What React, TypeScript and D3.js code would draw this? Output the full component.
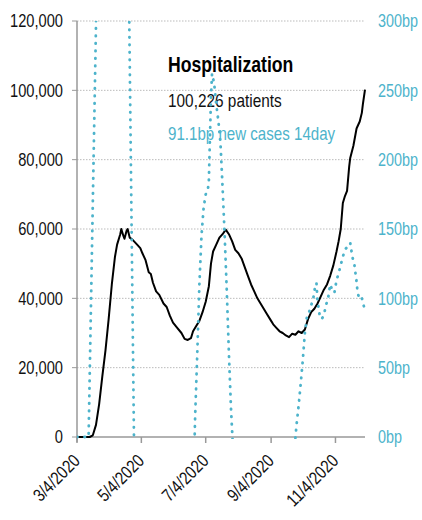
import React from "react";
import * as d3 from "d3";

const W = 422;
const H = 520;
const M = { left: 77, right: 365, top: 21, bottom: 437 };

const startDate = "2020-03-04";
const endDate = "2020-12-02";

// Hospitalization (currently hospitalized patients), date -> value
const hospDates = [
  "2020-03-04","2020-03-16","2020-03-19","2020-03-22","2020-03-25","2020-03-28","2020-03-31",
  "2020-04-03","2020-04-06","2020-04-09","2020-04-11","2020-04-14","2020-04-15","2020-04-17",
  "2020-04-18","2020-04-20","2020-04-21","2020-04-23","2020-04-26","2020-04-30","2020-05-03",
  "2020-05-05","2020-05-08","2020-05-11","2020-05-13","2020-05-15","2020-05-18","2020-05-21",
  "2020-05-25","2020-05-28","2020-05-31","2020-06-03","2020-06-07","2020-06-11","2020-06-14",
  "2020-06-17","2020-06-20","2020-06-22","2020-06-25","2020-06-28","2020-07-01","2020-07-04",
  "2020-07-07","2020-07-09","2020-07-11","2020-07-14","2020-07-17","2020-07-20","2020-07-23",
  "2020-07-26","2020-07-29","2020-08-01","2020-08-04","2020-08-07","2020-08-10","2020-08-13",
  "2020-08-16","2020-08-19","2020-08-22","2020-08-25","2020-08-28","2020-08-31","2020-09-03",
  "2020-09-06","2020-09-09","2020-09-12","2020-09-15","2020-09-18","2020-09-21","2020-09-24",
  "2020-09-27","2020-09-30","2020-10-03","2020-10-06","2020-10-09","2020-10-12","2020-10-15",
  "2020-10-18","2020-10-21","2020-10-24","2020-10-27","2020-10-30","2020-11-02","2020-11-05",
  "2020-11-07","2020-11-09","2020-11-11","2020-11-13","2020-11-15","2020-11-17","2020-11-18",
  "2020-11-21","2020-11-24","2020-11-27","2020-11-29","2020-11-30","2020-12-02"
];
const hospValues = [
  0, 0, 500, 3500, 9500, 17500, 25000,
  34000, 44000, 52000, 55500, 58500, 60000, 58000,
  57200, 59500, 60000, 57500, 56800, 55500, 54500,
  53000, 51000, 47500, 47000, 44500, 42000, 41000,
  38500, 37500, 35000, 33000, 31500, 30000, 28300,
  28000, 28500, 30500, 32000, 33500, 36000, 39000,
  43500, 50000, 53500, 55500, 57500, 58500, 59800,
  58500, 56500, 54000, 53000, 51500, 49000, 46500,
  44000, 42000, 40000, 38500, 37000, 35500, 34000,
  32500, 31500, 30500, 30000, 29300, 28800, 29800,
  29500, 30500, 30000, 31000, 34000, 36000, 37000,
  38500, 40500, 42500, 44000, 46500, 49500, 53500,
  56500, 60000, 67500, 69500, 71000, 78000, 80500,
  84000, 89000, 91000, 93500, 96000, 100226
];

// bp change in new cases (14 day), date -> value (off-scale values estimated)
const bpDates = [
  "2020-03-04","2020-03-15","2020-03-22","2020-03-23","2020-04-02","2020-04-13","2020-04-21",
  "2020-04-23","2020-04-27","2020-04-29","2020-05-28","2020-06-23","2020-06-24","2020-06-26",
  "2020-06-28","2020-06-30","2020-07-02","2020-07-04","2020-07-06","2020-07-07","2020-07-08",
  "2020-07-09","2020-07-10","2020-07-12","2020-07-14","2020-07-16","2020-07-18","2020-07-20",
  "2020-07-22","2020-07-24","2020-07-26","2020-07-28","2020-07-30","2020-08-01","2020-09-01",
  "2020-09-26","2020-09-28","2020-09-30","2020-10-02","2020-10-04","2020-10-06","2020-10-08",
  "2020-10-10","2020-10-12","2020-10-14","2020-10-16","2020-10-17","2020-10-18","2020-10-20",
  "2020-10-22","2020-10-24","2020-10-26","2020-10-28","2020-10-30","2020-11-01","2020-11-03",
  "2020-11-05","2020-11-07","2020-11-09","2020-11-11","2020-11-13","2020-11-15","2020-11-17",
  "2020-11-18","2020-11-20","2020-11-22","2020-11-24","2020-11-25","2020-11-27","2020-11-29",
  "2020-11-30","2020-12-02"
];
const bpValues = [
  0, 0, 297, 420, 1200, 900, 400,
  270, 0, -30, -60, -15, 15, 60,
  110, 145, 165, 175, 178, 185, 215,
  245, 262, 255, 240, 228, 212, 180,
  145, 105, 60, 20, -10, -30, -60,
  -10, 8, 22, 38, 55, 75, 87,
  90, 95, 100, 110, 111, 98, 88,
  85, 88, 95, 100, 110, 106, 104,
  113, 118, 124, 130, 135, 137, 139,
  140, 130, 124, 112, 104, 99, 100,
  97, 91.1
];

const leftTicks = [0, 20000, 40000, 60000, 80000, 100000, 120000];
const rightTicks = [0, 50, 100, 150, 200, 250, 300];
const xTickDates = ["2020-03-04", "2020-05-04", "2020-07-04", "2020-09-04", "2020-11-04"];
const xTickLabels = ["3/4/2020", "5/4/2020", "7/4/2020", "9/4/2020", "11/4/2020"];

const titleText = "Hospitalization";
const line1Text = "100,226 patients";
const line2Text = "91.1bp new cases 14day";

const TEAL = "#4db3cb";
const FONT = "'Liberation Sans', Arial, sans-serif";

const parse = d3.utcParse("%Y-%m-%d");

function T(props: {
  x: number; y: number; s: number; rotate?: number; anchor?: string;
  size: number; fill: string; weight?: string; dy?: string; children: React.ReactNode;
}) {
  const rot = props.rotate ? ` rotate(${props.rotate})` : "";
  return (
    <text
      transform={`translate(${props.x},${props.y})${rot} scale(${props.s},1)`}
      textAnchor={props.anchor || "start"}
      fontSize={props.size}
      fontWeight={props.weight || "normal"}
      fill={props.fill}
      dy={props.dy}
    >
      {props.children}
    </text>
  );
}

export default function App() {
  const x = d3.scaleUtc()
    .domain([parse(startDate)!, parse(endDate)!])
    .range([M.left, M.right]);
  const yL = d3.scaleLinear().domain([0, 120000]).range([M.bottom, M.top]);
  const yR = d3.scaleLinear().domain([0, 300]).range([M.bottom, M.top]);

  const hosp = hospDates.map((d, i) => ({ d: parse(d)!, v: hospValues[i] }));
  const bp = bpDates.map((d, i) => ({ d: parse(d)!, v: bpValues[i] }));

  const hospLine = d3.line<{ d: Date; v: number }>()
    .x((p) => x(p.d))
    .y((p) => yL(p.v));
  const bpLine = d3.line<{ d: Date; v: number }>()
    .x((p) => x(p.d))
    .y((p) => yR(p.v));

  return (
    <svg width={W} height={H} style={{ position: "absolute", left: 0, top: 0 }} fontFamily={FONT}>
      <defs>
        <clipPath id="plotclip">
          <rect x={M.left} y={M.top} width={M.right - M.left + 2} height={M.bottom - M.top + 2} />
        </clipPath>
      </defs>
      {/* gridlines */}
      {leftTicks.filter((t) => t > 0).map((t) => (
        <line key={t} x1={M.left} x2={M.right} y1={yL(t)} y2={yL(t)}
          stroke="#bbb" strokeWidth={1} strokeDasharray="1.5 1.5" />
      ))}
      {/* left axis */}
      <line x1={M.left} x2={M.left} y1={M.top} y2={M.bottom + 5} stroke="#999" strokeWidth={1.5} />
      {leftTicks.map((t) => (
        <g key={t}>
          <line x1={M.left - 5} x2={M.left} y1={yL(t)} y2={yL(t)} stroke="#999" strokeWidth={1} />
          <T x={63} y={yL(t)} dy="0.35em" anchor="end" size={18} s={0.815} fill="#111">
            {d3.format(",")(t)}
          </T>
        </g>
      ))}
      {/* right axis labels */}
      {rightTicks.map((t) => (
        <T key={t} x={378} y={yR(t)} dy="0.35em" size={18} s={0.8} fill={TEAL}>
          {t + "bp"}
        </T>
      ))}
      {/* x axis */}
      <line x1={M.left} x2={M.right} y1={M.bottom} y2={M.bottom} stroke="#999" strokeWidth={1.5} />
      {xTickDates.map((d, i) => {
        const xx = x(parse(d)!);
        return (
          <g key={d}>
            <line x1={xx} x2={xx} y1={M.bottom} y2={M.bottom + 6} stroke="#999" strokeWidth={1.5} />
            <T x={xx + 4} y={462} rotate={-45} anchor="end" size={18} s={0.82} fill="#111">
              {xTickLabels[i]}
            </T>
          </g>
        );
      })}
      {/* annotation */}
      <T x={168} y={72} size={21.5} s={0.82} weight="bold" fill="#000">{titleText}</T>
      <T x={168} y={107} size={18} s={0.855} fill="#111">{line1Text}</T>
      <T x={168} y={140} size={18} s={0.84} fill={TEAL}>{line2Text}</T>
      {/* series */}
      <g clipPath="url(#plotclip)">
        <path d={hospLine(hosp) || ""} fill="none" stroke="#000" strokeWidth={2} strokeLinejoin="round" />
        <path d={bpLine(bp) || ""} fill="none" stroke={TEAL} strokeWidth={2.8}
          strokeDasharray="0.5 7" strokeLinecap="round" />
      </g>
    </svg>
  );
}
